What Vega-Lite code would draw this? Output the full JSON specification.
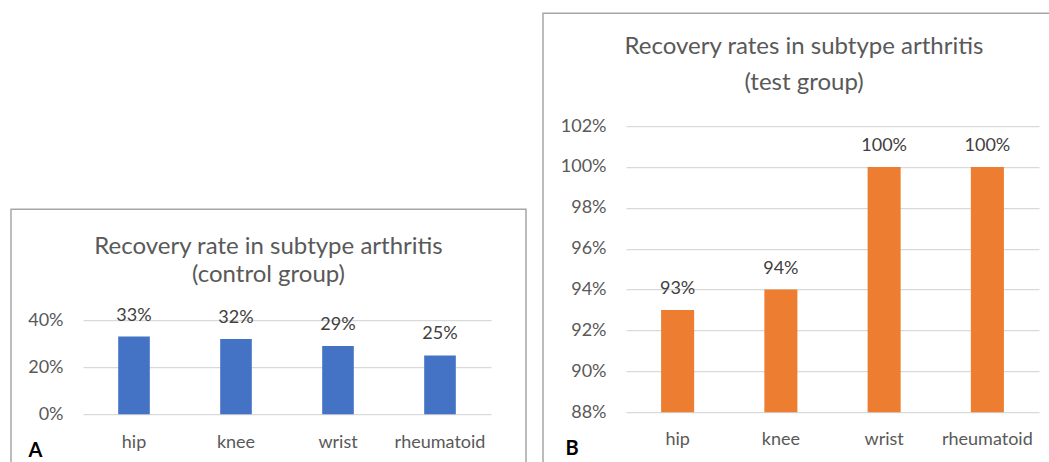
{
  "$schema": "https://vega.github.io/schema/vega-lite/v6.json",
  "padding": {"left": 10, "top": 12, "right": 0, "bottom": 0},
  "background": "white",
  "datasets": {
    "control": [
      {"joint": "hip", "rate": 0.33},
      {"joint": "knee", "rate": 0.32},
      {"joint": "wrist", "rate": 0.29},
      {"joint": "rheumatoid", "rate": 0.25}
    ],
    "test": [
      {"joint": "hip", "rate": 0.93},
      {"joint": "knee", "rate": 0.94},
      {"joint": "wrist", "rate": 1.0},
      {"joint": "rheumatoid", "rate": 1.0}
    ]
  },
  "spacing": 15,
  "center": true,
  "hconcat": [
    {
      "width": 515,
      "height": 268,
      "data": {"name": "control"},
      "title": {
        "text": ["Recovery rate in subtype arthritis", "(control group)"],
        "fontSize": 24, "fontWeight": "normal", "color": "#595959",
        "anchor": "middle", "frame": "group", "offset": -78, "lineHeight": 28
      },
      "encoding": {
        "x": {
          "field": "joint", "type": "nominal",
          "sort": ["hip", "knee", "wrist", "rheumatoid"],
          "scale": {"range": [72, 480], "paddingInner": 0.69, "paddingOuter": 0.345},
          "axis": {
            "title": "A", "labelAngle": 0, "offset": -63, "labelPadding": 19,
            "ticks": false, "tickSize": 0, "domain": false, "grid": false,
            "titleX": 17, "titleY": 42, "titleAlign": "left", "titleBaseline": "alphabetic",
            "titleFontSize": 20, "titleFontWeight": "bold", "titleColor": "#000000"
          }
        },
        "y": {
          "field": "rate", "type": "quantitative",
          "scale": {"domain": [0, 0.4], "range": [205, 111], "nice": false, "zero": false},
          "axis": {
            "title": null, "values": [0, 0.2, 0.4], "format": ".0%",
            "offset": -56, "labelPadding": 4, "ticks": false, "tickSize": 0,
            "domain": false, "grid": true
          }
        }
      },
      "layer": [
        {"mark": {"type": "bar", "color": "#4472C4"}, "encoding": {"y2": {"datum": 0}}},
        {
          "mark": {"type": "text", "baseline": "alphabetic", "dy": -16, "fontSize": 18, "color": "#404040"},
          "encoding": {"text": {"field": "rate", "type": "quantitative", "format": ".0%"}}
        }
      ]
    },
    {
      "width": 522,
      "height": 660,
      "data": {"name": "test"},
      "title": {
        "text": ["Recovery rates in subtype arthritis", "(test group)"],
        "fontSize": 24, "fontWeight": "normal", "color": "#595959",
        "anchor": "middle", "frame": "group", "offset": -82, "lineHeight": 36
      },
      "encoding": {
        "x": {
          "field": "joint", "type": "nominal",
          "sort": ["hip", "knee", "wrist", "rheumatoid"],
          "scale": {"range": [83, 496], "paddingInner": 0.68, "paddingOuter": 0.34},
          "axis": {
            "title": "B", "labelAngle": 0, "offset": -261, "labelPadding": 18,
            "ticks": false, "tickSize": 0, "domain": false, "grid": false,
            "titleX": 22, "titleY": 42, "titleAlign": "left", "titleBaseline": "alphabetic",
            "titleFontSize": 20, "titleFontWeight": "bold", "titleColor": "#000000"
          }
        },
        "y": {
          "field": "rate", "type": "quantitative",
          "scale": {"domain": [0.88, 1.02], "range": [399, 113], "nice": false, "zero": false},
          "axis": {
            "title": null, "values": [0.88, 0.9, 0.92, 0.94, 0.96, 0.98, 1.0, 1.02], "format": ".0%",
            "offset": -67, "labelPadding": 4, "ticks": false, "tickSize": 0,
            "domain": false, "grid": true
          }
        }
      },
      "layer": [
        {"mark": {"type": "bar", "color": "#ED7D31"}, "encoding": {"y2": {"datum": 0.88}}},
        {
          "mark": {"type": "text", "baseline": "alphabetic", "dy": -16, "fontSize": 18, "color": "#404040"},
          "encoding": {"text": {"field": "rate", "type": "quantitative", "format": ".0%"}}
        }
      ]
    }
  ],
  "config": {
    "font": "Lato",
    "view": {"stroke": "#a6a6a6", "strokeWidth": 1.5},
    "axis": {
      "labelColor": "#595959", "labelFontSize": 18, "labelFont": "Lato",
      "gridColor": "#d9d9d9", "gridWidth": 1.2
    }
  }
}
